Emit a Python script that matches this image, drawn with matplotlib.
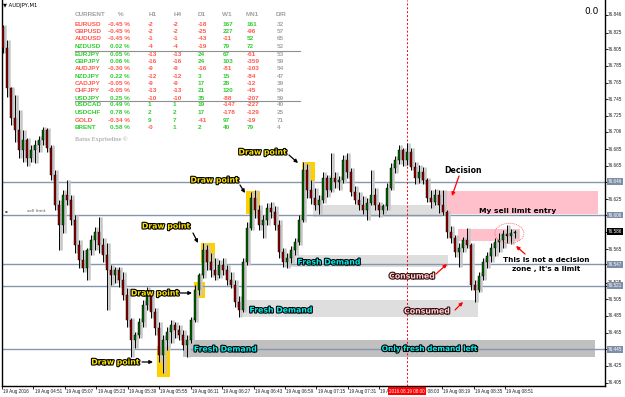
import matplotlib
matplotlib.use("Agg")
import matplotlib.pyplot as plt
import matplotlib.patheffects as pe
import matplotlib.transforms as mtransforms
from matplotlib.patches import Rectangle, Ellipse

# AUDJPY, M1 - one entry per drawn bar
opens = [76.832, 76.806, 76.758, 76.722, 76.708, 76.684, 76.696, 76.674, 76.684, 76.690,
         76.696, 76.708, 76.686, 76.654, 76.618, 76.594, 76.630, 76.624, 76.600, 76.570,
         76.552, 76.542, 76.564, 76.576, 76.586, 76.570, 76.558, 76.540, 76.534, 76.540,
         76.528, 76.510, 76.480, 76.456, 76.462, 76.478, 76.498, 76.510, 76.490, 76.470,
         76.438, 76.456, 76.466, 76.474, 76.468, 76.462, 76.450, 76.456, 76.480, 76.516,
         76.534, 76.564, 76.550, 76.540, 76.534, 76.546, 76.540, 76.528, 76.522, 76.502,
         76.492, 76.550, 76.590, 76.626, 76.612, 76.594, 76.600, 76.614, 76.610, 76.594,
         76.562, 76.550, 76.554, 76.564, 76.574, 76.600, 76.660, 76.636, 76.626, 76.618,
         76.624, 76.650, 76.636, 76.650, 76.646, 76.648, 76.672, 76.658, 76.634, 76.624,
         76.618, 76.612, 76.620, 76.630, 76.618, 76.612, 76.617, 76.638, 76.662, 76.672,
         76.684, 76.672, 76.682, 76.664, 76.650, 76.658, 76.648, 76.626, 76.622, 76.630,
         76.618, 76.610, 76.586, 76.578, 76.562, 76.566, 76.576, 76.570, 76.522, 76.516,
         76.533, 76.550, 76.557, 76.566, 76.574, 76.576, 76.583, 76.581, 76.584]
highs = [76.834, 76.816, 76.760, 76.750, 76.732, 76.708, 76.698, 76.690, 76.696, 76.701,
         76.712, 76.710, 76.690, 76.660, 76.624, 76.636, 76.648, 76.630, 76.606, 76.576,
         76.564, 76.566, 76.582, 76.592, 76.604, 76.578, 76.572, 76.546, 76.544, 76.544,
         76.538, 76.518, 76.482, 76.466, 76.482, 76.504, 76.520, 76.514, 76.494, 76.478,
         76.462, 76.472, 76.480, 76.478, 76.474, 76.468, 76.462, 76.484, 76.522, 76.536,
         76.572, 76.570, 76.560, 76.554, 76.552, 76.554, 76.546, 76.538, 76.528, 76.509,
         76.554, 76.598, 76.634, 76.636, 76.618, 76.606, 76.620, 76.622, 76.617, 76.600,
         76.566, 76.560, 76.569, 76.578, 76.606, 76.670, 76.667, 76.648, 76.638, 76.630,
         76.658, 76.654, 76.680, 76.658, 76.653, 76.678, 76.680, 76.662, 76.641, 76.634,
         76.629, 76.626, 76.660, 76.638, 76.622, 76.619, 76.644, 76.668, 76.677, 76.690,
         76.686, 76.692, 76.686, 76.670, 76.666, 76.664, 76.650, 76.636, 76.637, 76.636,
         76.636, 76.612, 76.593, 76.582, 76.572, 76.580, 76.590, 76.572, 76.528, 76.538,
         76.554, 76.562, 76.572, 76.578, 76.584, 76.588, 76.594, 76.589, 76.588]
lows = [76.800, 76.748, 76.714, 76.694, 76.674, 76.670, 76.665, 76.670, 76.668, 76.682,
        76.690, 76.682, 76.648, 76.612, 76.564, 76.584, 76.618, 76.594, 76.560, 76.542,
        76.538, 76.528, 76.558, 76.564, 76.560, 76.550, 76.492, 76.522, 76.524, 76.520,
        76.504, 76.472, 76.436, 76.446, 76.458, 76.472, 76.492, 76.482, 76.462, 76.430,
        76.416, 76.444, 76.452, 76.458, 76.456, 76.444, 76.436, 76.452, 76.478, 76.510,
        76.530, 76.540, 76.532, 76.528, 76.530, 76.534, 76.522, 76.518, 76.496, 76.484,
        76.490, 76.546, 76.588, 76.602, 76.588, 76.578, 76.594, 76.602, 76.588, 76.554,
        76.544, 76.542, 76.548, 76.558, 76.570, 76.598, 76.626, 76.619, 76.612, 76.607,
        76.620, 76.628, 76.634, 76.638, 76.636, 76.644, 76.650, 76.629, 76.619, 76.612,
        76.607, 76.600, 76.618, 76.612, 76.604, 76.607, 76.612, 76.636, 76.656, 76.667,
        76.665, 76.666, 76.660, 76.643, 76.644, 76.643, 76.622, 76.614, 76.618, 76.608,
        76.606, 76.578, 76.572, 76.556, 76.544, 76.562, 76.566, 76.516, 76.502, 76.514,
        76.528, 76.542, 76.550, 76.557, 76.562, 76.566, 76.572, 76.571, 76.578]
closes = [76.806, 76.758, 76.722, 76.708, 76.684, 76.696, 76.674, 76.684, 76.690, 76.696,
          76.708, 76.686, 76.654, 76.618, 76.594, 76.630, 76.624, 76.600, 76.570, 76.552,
          76.542, 76.564, 76.576, 76.586, 76.570, 76.558, 76.540, 76.534, 76.540, 76.528,
          76.510, 76.480, 76.456, 76.462, 76.478, 76.498, 76.510, 76.490, 76.470, 76.438,
          76.456, 76.466, 76.474, 76.468, 76.462, 76.450, 76.456, 76.480, 76.516, 76.534,
          76.564, 76.550, 76.540, 76.534, 76.546, 76.540, 76.528, 76.522, 76.502, 76.492,
          76.550, 76.590, 76.626, 76.612, 76.594, 76.600, 76.614, 76.610, 76.594, 76.562,
          76.550, 76.554, 76.564, 76.574, 76.600, 76.660, 76.636, 76.626, 76.618, 76.624,
          76.650, 76.636, 76.650, 76.646, 76.648, 76.672, 76.658, 76.634, 76.624, 76.618,
          76.612, 76.620, 76.630, 76.618, 76.612, 76.617, 76.638, 76.662, 76.672, 76.684,
          76.672, 76.682, 76.664, 76.650, 76.658, 76.648, 76.626, 76.622, 76.630, 76.618,
          76.610, 76.586, 76.578, 76.562, 76.566, 76.576, 76.570, 76.522, 76.516, 76.533,
          76.550, 76.557, 76.566, 76.574, 76.576, 76.583, 76.581, 76.584, 76.586]

time_labels = ["19 Aug 2016", "19 Aug 04:51", "19 Aug 05:07", "19 Aug 05:23", "19 Aug 05:39",
               "19 Aug 05:55", "19 Aug 06:11", "19 Aug 06:27", "19 Aug 06:43", "19 Aug 06:59",
               "19 Aug 07:15", "19 Aug 07:31", "19 Aug 07:47", "19 Aug 08:03", "19 Aug 08:19",
               "19 Aug 08:35", "19 Aug 08:51"]
price_ticks = [76.846, 76.825, 76.805, 76.785, 76.765, 76.745, 76.725, 76.706, 76.685,
               76.665, 76.625, 76.565, 76.525, 76.505, 76.485, 76.465, 76.425, 76.405]
level_lines = [76.646, 76.606, 76.547, 76.521, 76.445]
sell_limit = 76.606
cursor_bar = 101
cursor_label = "2016.08.19 08:00"

# zones: (bar from, bar to, price low, price high)
draw_zones = [(38.5, 41.75, 76.412, 76.449), (47.75, 50.5, 76.506, 76.526),
              (49.5, 53.0, 76.548, 76.572), (60.75, 64.25, 76.607, 76.635),
              (74.75, 78.0, 76.647, 76.670)]
demand_dark = [(45.0, 148.0, 76.436, 76.456)]
demand_light = [(60.0, 118.75, 76.484, 76.504), (70.5, 111.25, 76.544, 76.558),
                (77.5, 109.75, 76.604, 76.618)]
supply_zones = [(109.25, 148.75, 76.607, 76.635), (113.75, 129.25, 76.575, 76.589)]

# dashboard table
pairs = ["EURUSD", "GBPUSD", "AUDUSD", "NZDUSD", "EURJPY", "GBPJPY", "AUDJPY", "NZDJPY",
         "CADJPY", "CHFJPY", "USDJPY", "USDCAD", "USDCHF", "GOLD", "BRENT"]
pct = ["-0.45", "-0.45", "-0.45", "0.02", "0.05", "0.06", "-0.30", "0.22", "-0.05", "-0.05",
       "0.25", "0.49", "0.78", "-0.34", "0.58"]
h1 = ["-2", "-2", "-1", "-4", "-13", "-16", "-9", "-12", "-9", "-13", "-10", "1", "2", "9", "-0"]
h4 = ["-2", "-2", "-1", "-4", "-13", "-16", "-9", "-12", "-9", "-13", "-10", "1", "2", "7", "1"]
d1 = ["-18", "-25", "-43", "-19", "24", "24", "-16", "3", "17", "21", "35", "19", "17", "-41", "2"]
w1 = ["167", "227", "-11", "79", "67", "103", "-81", "15", "28", "120", "-88", "-147", "-178", "97", "40"]
mn1 = ["161", "-96", "52", "72", "-61", "-359", "-103", "-84", "-12", "-45", "-207", "-227", "-129", "-19", "79"]
dr = ["32", "57", "65", "52", "53", "59", "54", "47", "39", "54", "59", "40", "25", "71", "4"]

RED = "#ff5a50"
GREEN = "#33cc33"
GREY = "#a8a8a8"

W, H = 625, 397
fig = plt.figure(figsize=(W / 100, H / 100), dpi=100)
fig.patch.set_facecolor("white")
ax = fig.add_axes([2 / W, 11 / H, 603 / W, 386 / H])
ax.set_xlim(-0.25, 150.5)
ax.set_ylim(76.4008, 76.864)


def fx(px):
    return px / W


def fy(py):
    return 1 - py / H


# zones (behind candles)
for x0, x1, lo, hi in demand_dark:
    ax.add_patch(Rectangle((x0, lo), x1 - x0, hi - lo, fc="#c0c0c0", ec="none", zorder=1))
for x0, x1, lo, hi in demand_light:
    ax.add_patch(Rectangle((x0, lo), x1 - x0, hi - lo, fc="#dedede", ec="none", zorder=1))
for x0, x1, lo, hi in supply_zones:
    ax.add_patch(Rectangle((x0, lo), x1 - x0, hi - lo, fc="#ffc0cb", ec="none", zorder=1))
for x0, x1, lo, hi in draw_zones:
    ax.add_patch(Rectangle((x0, lo), x1 - x0, hi - lo, fc="#ffd000", ec="none", zorder=1))

for lv in level_lines:
    ax.axhline(lv, color="#8797ab", lw=1, zorder=1.5)
ax.axvline(cursor_bar, color="red", lw=0.7, ls=(0, (2, 2)), zorder=1.5)

# candles
xs = list(range(len(closes)))
ax.vlines([x + 0.4 for x in xs], lows, highs, color="#c6c6c6", lw=1.8, zorder=2)
ax.vlines(xs, lows, highs, color="black", lw=0.7, zorder=3)
for x, o, c in zip(xs, opens, closes):
    col = "#006400" if c >= o else "#8b0000"
    bottom = min(o, c)
    height = max(abs(c - o), 0.0012)
    ax.add_patch(Rectangle((x - 0.28, bottom), 0.56, height, fc=col, ec="black", lw=0.3, zorder=4))

# axes look
ax.spines["top"].set_visible(False)
for s in ["left", "right", "bottom"]:
    ax.spines[s].set_color("black")
    ax.spines[s].set_linewidth(1)
ax.yaxis.tick_right()
ax.set_yticks(price_ticks + level_lines + [closes[-1]])
ax.set_yticklabels([])
tick_pos = [-0.25 + 7.86 * k for k in range(len(time_labels))]
ax.set_xticks(tick_pos)
ax.set_xticklabels([])
ax.tick_params(axis="both", length=2.5, width=0.6, color="black")

ytrans = mtransforms.blended_transform_factory(ax.transAxes, ax.transData)
xtrans = mtransforms.blended_transform_factory(ax.transData, ax.transAxes)
lab_font = dict(fontsize=3.3, family="Liberation Sans", clip_on=False)
for p in price_ticks:
    ax.text(1.005, p, f"{p:.3f}", transform=ytrans, color="#202020",
            va="center", ha="left", **lab_font)
for lv in level_lines:
    ax.text(1.005, lv, f"{lv:.3f}", transform=ytrans, color="white", zorder=6,
            va="center", ha="left", bbox=dict(boxstyle="square,pad=0.2", fc="#7d8ea6", ec="none"),
            **lab_font)
ax.text(1.005, closes[-1], f"{closes[-1]:.3f}", transform=ytrans, color="white", zorder=6,
        va="center", ha="left", bbox=dict(boxstyle="square,pad=0.2", fc="black", ec="none"),
        **lab_font)
for pos, lab in zip(tick_pos, time_labels):
    ax.text(pos + 0.3, -0.013, lab, transform=xtrans, color="#202020",
            va="center", ha="left", **lab_font)
ax.text(cursor_bar, -0.013, cursor_label, transform=xtrans, color="white",
        va="center", ha="center", zorder=10,
        bbox=dict(boxstyle="square,pad=0.3", fc="red", ec="none"), **lab_font)

# header texts
fig.text(fx(3), fy(6), "\u25bc AUDJPY,M1", fontsize=3.8, color="black", va="center")
ax.text(0.99, 0.97, "0.0", transform=ax.transAxes, fontsize=6.5, color="black",
        ha="right", va="center")
ax.text(6, sell_limit + 0.002, "sell limit", fontsize=3.2, color="#555555", va="bottom")
ax.text(0.5, sell_limit + 0.002, "\u25aa", fontsize=3, color="#555555", va="bottom")

# dashboard
cols_x = [75, 108, 148, 173, 198, 223, 247, 277]
headers = ["CURRENT", "%", "H1", "H4", "D1", "W1", "MN1", "D/R"]
head_x = [75, 118, 149, 174, 198, 222, 246, 276]
for hx, ht in zip(head_x, headers):
    fig.text(fx(hx), fy(15), ht, fontsize=4.6, color="#a0a0a0", fontweight="bold",
             va="center", family="Liberation Sans")
row_y = [24, 31.5, 39, 46.5, 54, 61.5, 69, 76, 83.5, 91, 98, 105, 112.5, 120, 127.5]


def sign_col(s):
    return RED if s.startswith("-") else GREEN


for k in range(len(pairs)):
    y = fy(row_y[k])
    cells = [pairs[k], pct[k] + " %", h1[k], h4[k], d1[k], w1[k], mn1[k], dr[k]]
    colors = [sign_col(pct[k]), sign_col(pct[k]), sign_col(h1[k]), sign_col(h4[k]),
              sign_col(d1[k]), sign_col(w1[k]), sign_col(mn1[k]), GREY]
    for cx, txt, col in zip(cols_x, cells, colors):
        xoff = 2 if (cx == 108 and not txt.startswith("-")) else 0
        fig.text(fx(cx + xoff), y, txt, fontsize=4.6, color=col, fontweight="bold",
                 va="center", family="Liberation Sans")
for sy in [51, 101]:
    fig.add_artist(plt.Line2D([fx(75), fx(300)], [fy(sy), fy(sy)], color="#909090", lw=0.8))
fig.text(fx(75), fy(139), "Batus Expriseline \u00a9", fontsize=4.4, color="#b4b4b4",
         fontweight="bold", family="Liberation Serif", va="center")


# annotations
def outlined(x, y, s, col, size=5.6, fg="black"):
    ax.text(x, y, s, fontsize=size, color=col, fontweight="bold", ha="center", va="center",
            zorder=8, path_effects=[pe.withStroke(linewidth=1.6, foreground=fg)])


def arrow(x0, y0, x1, y1, col):
    ax.annotate("", xy=(x1, y1), xytext=(x0, y0), zorder=8,
                arrowprops=dict(arrowstyle="-|>", color=col, lw=0.9, mutation_scale=5,
                                shrinkA=0, shrinkB=0))


draw_labels = [(28.1, 76.4296, 34.75, 76.4296, 37.5, 76.4296),
               (38.0, 76.5124, 44.25, 76.5124, 47.25, 76.5124),
               (40.75, 76.5928, 47.5, 76.5844, 48.75, 76.5724),
               (52.9, 76.6480, 59.25, 76.6420, 60.5, 76.6324),
               (64.9, 76.6816, 71.5, 76.6780, 73.75, 76.6684)]
for tx, ty, ax0, ay0, ax1, ay1 in draw_labels:
    outlined(tx, ty, "Draw point", "#ffe400")
    arrow(ax0, ay0, ax1, ay1, "black")

outlined(55.6, 76.4452, "Fresh Demand", "#00f0f0")
outlined(69.5, 76.4920, "Fresh Demand", "#00f0f0")
outlined(81.5, 76.5496, "Fresh Demand", "#00f0f0")
outlined(106.75, 76.4452, "Only fresh demand left", "#00f0f0", size=5.3)

outlined(102.25, 76.5328, "Consumed", "#ffd8de", fg="#3a0808")
outlined(106.0, 76.4908, "Consumed", "#ffd8de", fg="#3a0808")
arrow(108.25, 76.5352, 111.0, 76.5472, "red")
arrow(113.0, 76.4920, 115.0, 76.5016, "red")

ax.text(115.0, 76.660, "Decision", fontsize=5.6, fontweight="bold", color="black",
        ha="center", va="center", zorder=8)
arrow(114.0, 76.6528, 112.25, 76.6288, "red")
ax.text(128.6, 76.6108, "My sell limit entry", fontsize=5.4, fontweight="bold", color="black",
        ha="center", va="center", zorder=8)
ax.text(135.75, 76.5520, "This is not a decision", fontsize=5.2, fontweight="bold",
        color="black", ha="center", va="center", zorder=8)
ax.text(135.75, 76.5412, "zone , it's a limit", fontsize=5.2, fontweight="bold",
        color="black", ha="center", va="center", zorder=8)
arrow(130.5, 76.5592, 128.25, 76.5688, "red")
ax.add_patch(Ellipse((126.6, 76.584), 7.25, 0.024, fc="none", ec="#ff7070", lw=0.7,
                     ls=(0, (1, 1)), zorder=7))

fig.savefig("out.png", dpi=100)
